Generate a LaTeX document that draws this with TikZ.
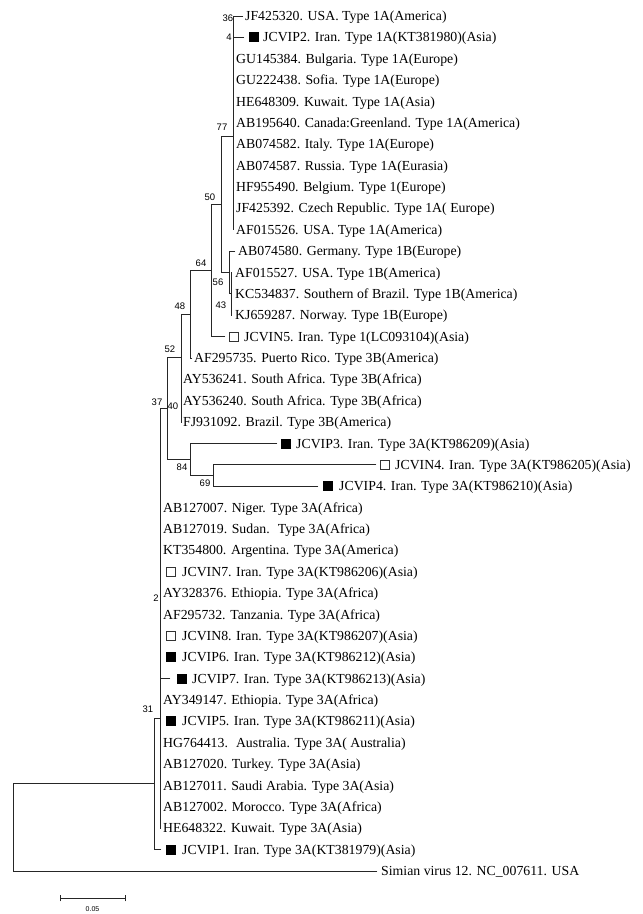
\documentclass[tikz,border=0pt]{standalone}
\usepackage{fontspec}
\setmainfont{Liberation Serif}
\newfontfamily\labfont{Liberation Sans}
\begin{document}
\begin{tikzpicture}[x=1pt,y=-1pt,
  br/.style={line width=0.8pt, draw=black!85, line cap=rect},
  leaf/.style={anchor=base west, inner sep=0pt, yshift=-4.6pt, font=\fontsize{13.8}{16}\selectfont},
  bs/.style={inner sep=0pt, font=\labfont\fontsize{9.5}{11}\selectfont},
  fbx/.style={fill=black, minimum size=10pt, inner sep=0pt},
  ebx/.style={draw=black!80, line width=0.6pt, minimum size=9.4pt, inner sep=0pt, fill=white},
]
\useasboundingbox (0,0) rectangle (643,914);
% internal nodes
\coordinate (n36) at (233,26.69);
\coordinate (n4) at (233,42.72);
\coordinate (n77) at (233,136.23);
\coordinate (n50) at (221,204.37);
\coordinate (n56) at (229,272.5);
\coordinate (n43) at (231,293.875);
\coordinate (n64) at (211,270.5);
\coordinate (n48) at (190,314.25);
\coordinate (n52) at (181,357.5);
\coordinate (n40) at (181,400.75);
\coordinate (n37) at (167,408.52);
\coordinate (n84) at (190,459.53);
\coordinate (n69) at (213,475.56);
\coordinate (n2) at (160,607.7);
\coordinate (nX) at (160,717.97);
\coordinate (n31) at (154,783.8);
\coordinate (root) at (13,827.4);
% leaf tips
\coordinate (t1) at (243,16);
\coordinate (t2) at (244,37.375);
\coordinate (t3) at (233,58.75);
\coordinate (t4) at (233,80.125);
\coordinate (t5) at (233,101.5);
\coordinate (t6) at (233,122.875);
\coordinate (t7) at (233,144.25);
\coordinate (t8) at (233,165.625);
\coordinate (t9) at (233,187);
\coordinate (t10) at (233,208.375);
\coordinate (t11) at (233,229.75);
\coordinate (t12) at (235,251.125);
\coordinate (t13) at (231,272.5);
\coordinate (t14) at (231,293.875);
\coordinate (t15) at (231,315.25);
\coordinate (t16) at (225,336.625);
\coordinate (t17) at (192,358);
\coordinate (t18) at (181,379.375);
\coordinate (t19) at (181,400.75);
\coordinate (t20) at (181,422.125);
\coordinate (t21) at (277,443.5);
\coordinate (t22) at (376,464.875);
\coordinate (t23) at (318,486.25);
\coordinate (t24) at (160,507.625);
\coordinate (t25) at (160,529);
\coordinate (t26) at (160,550.375);
\coordinate (t27) at (160,571.75);
\coordinate (t28) at (160,593.125);
\coordinate (t29) at (160,614.5);
\coordinate (t30) at (160,635.875);
\coordinate (t31) at (160,657.25);
\coordinate (t32) at (170,678.625);
\coordinate (t33) at (160,700);
\coordinate (t34) at (160,721.375);
\coordinate (t35) at (160,742.75);
\coordinate (t36) at (160,764.125);
\coordinate (t37) at (160,785.5);
\coordinate (t38) at (160,806.875);
\coordinate (t39) at (160,828.25);
\coordinate (t40) at (161,849.625);
\coordinate (t41) at (377,871);
% branches
\draw[br] (n36) |- (t1);
\draw[br] (n36) |- (t2);
\draw[br] (n4) |- (n36);
\draw[br] (n4) |- (t3);
\foreach \k in {4,...,11} {\draw[br] (n77) |- (t\k);}
\draw[br] (n77) |- (n4);
\draw[br] (n50) |- (n77);
\draw[br] (n50) |- (n56);
\draw[br] (n56) |- (t12);
\draw[br] (n56) |- (n43);
\foreach \k in {13,14,15} {\draw[br] (n43) |- (t\k);}
\draw[br] (n64) |- (n50);
\draw[br] (n64) |- (t16);
\draw[br] (n48) |- (n64);
\draw[br] (n48) |- (t17);
\draw[br] (n52) |- (n48);
\draw[br] (n52) |- (n40);
\foreach \k in {18,19,20} {\draw[br] (n40) |- (t\k);}
\draw[br] (n37) |- (n52);
\draw[br] (n37) |- (n84);
\draw[br] (n84) |- (t21);
\draw[br] (n84) |- (n69);
\draw[br] (n69) |- (t22);
\draw[br] (n69) |- (t23);
\draw[br] (n2) |- (n37);
\foreach \k in {24,...,38} {\draw[br] (n2) |- (t\k);}
\draw[br] (nX) |- (n2);
\draw[br] (nX) |- (t39);
\draw[br] (n31) |- (nX);
\draw[br] (n31) |- (t40);
\draw[br] (root) |- (n31);
\draw[br] (root) |- (t41);
% markers
\node[fbx] (b2) at (254,37.375) {};
\node[ebx] (b16) at (234,336.625) {};
\node[fbx] (b21) at (286,443.5) {};
\node[ebx] (b22) at (385,464.875) {};
\node[fbx] (b23) at (328,486.25) {};
\node[ebx] (b27) at (171,571.75) {};
\node[ebx] (b30) at (171,635.875) {};
\node[fbx] (b31) at (171,657.25) {};
\node[fbx] (b32) at (182,678.625) {};
\node[fbx] (b34) at (171,721.375) {};
\node[fbx] (b40) at (171,849.625) {};
% leaf labels
\node[leaf] (L1) at (245,16) {JF425320. USA. Type 1A(America)};
\node[leaf] (L2) at (263,37.375) {JCVIP2. Iran. Type 1A(KT381980)(Asia)};
\node[leaf] (L3) at (236,58.75) {GU145384. Bulgaria. Type 1A(Europe)};
\node[leaf] (L4) at (236,80.125) {GU222438. Sofia. Type 1A(Europe)};
\node[leaf] (L5) at (236,101.5) {HE648309. Kuwait. Type 1A(Asia)};
\node[leaf] (L6) at (236,122.875) {AB195640. Canada:Greenland. Type 1A(America)};
\node[leaf] (L7) at (236,144.25) {AB074582. Italy. Type 1A(Europe)};
\node[leaf] (L8) at (236,165.625) {AB074587. Russia. Type 1A(Eurasia)};
\node[leaf] (L9) at (236,187) {HF955490. Belgium. Type 1(Europe)};
\node[leaf] (L10) at (236,208.375) {JF425392. Czech Republic. Type 1A( Europe)};
\node[leaf] (L11) at (236,229.75) {AF015526. USA. Type 1A(America)};
\node[leaf] (L12) at (238,251.125) {AB074580. Germany. Type 1B(Europe)};
\node[leaf] (L13) at (235,272.5) {AF015527. USA. Type 1B(America)};
\node[leaf] (L14) at (235,293.875) {KC534837. Southern of Brazil. Type 1B(America)};
\node[leaf] (L15) at (235,315.25) {KJ659287. Norway. Type 1B(Europe)};
\node[leaf] (L16) at (244,336.625) {JCVIN5. Iran. Type 1(LC093104)(Asia)};
\node[leaf] (L17) at (194,358) {AF295735. Puerto Rico. Type 3B(America)};
\node[leaf] (L18) at (183,379.375) {AY536241. South Africa. Type 3B(Africa)};
\node[leaf] (L19) at (183,400.75) {AY536240. South Africa. Type 3B(Africa)};
\node[leaf] (L20) at (183,422.125) {FJ931092. Brazil. Type 3B(America)};
\node[leaf] (L21) at (296,443.5) {JCVIP3. Iran. Type 3A(KT986209)(Asia)};
\node[leaf] (L22) at (395,464.875) {JCVIN4. Iran. Type 3A(KT986205)(Asia)};
\node[leaf] (L23) at (339,486.25) {JCVIP4. Iran. Type 3A(KT986210)(Asia)};
\node[leaf] (L24) at (163,507.625) {AB127007. Niger. Type 3A(Africa)};
\node[leaf] (L25) at (163,529) {AB127019. Sudan.~ Type 3A(Africa)};
\node[leaf] (L26) at (163,550.375) {KT354800. Argentina. Type 3A(America)};
\node[leaf] (L27) at (182,571.75) {JCVIN7. Iran. Type 3A(KT986206)(Asia)};
\node[leaf] (L28) at (163,593.125) {AY328376. Ethiopia. Type 3A(Africa)};
\node[leaf] (L29) at (163,614.5) {AF295732. Tanzania. Type 3A(Africa)};
\node[leaf] (L30) at (182,635.875) {JCVIN8. Iran. Type 3A(KT986207)(Asia)};
\node[leaf] (L31) at (182,657.25) {JCVIP6. Iran. Type 3A(KT986212)(Asia)};
\node[leaf] (L32) at (192,678.625) {JCVIP7. Iran. Type 3A(KT986213)(Asia)};
\node[leaf] (L33) at (163,700) {AY349147. Ethiopia. Type 3A(Africa)};
\node[leaf] (L34) at (182,721.375) {JCVIP5. Iran. Type 3A(KT986211)(Asia)};
\node[leaf] (L35) at (163,742.75) {HG764413.~ Australia. Type 3A( Australia)};
\node[leaf] (L36) at (163,764.125) {AB127020. Turkey. Type 3A(Asia)};
\node[leaf] (L37) at (163,785.5) {AB127011. Saudi Arabia. Type 3A(Asia)};
\node[leaf] (L38) at (163,806.875) {AB127002. Morocco. Type 3A(Africa)};
\node[leaf] (L39) at (163,828.25) {HE648322. Kuwait. Type 3A(Asia)};
\node[leaf] (L40) at (182,849.625) {JCVIP1. Iran. Type 3A(KT381979)(Asia)};
\node[leaf] (L41) at (381,871) {Simian virus 12. NC\_007611. USA};
% bootstrap values
\node[bs] (s36) at (228,18) {36};
\node[bs] (s4) at (229,37) {4};
\node[bs] (s77) at (222,127) {77};
\node[bs] (s50) at (210,197) {50};
\node[bs] (s64) at (201,263) {64};
\node[bs] (s56) at (218,282) {56};
\node[bs] (s43) at (221,305) {43};
\node[bs] (s48) at (180,306) {48};
\node[bs] (s52) at (170,349) {52};
\node[bs] (s37) at (157,402) {37};
\node[bs] (s40) at (173,406) {40};
\node[bs] (s84) at (182,467) {84};
\node[bs] (s69) at (205,483) {69};
\node[bs] (s2) at (156,598) {2};
\node[bs] (s31) at (148,709) {31};
% scale bar
\coordinate (sbL) at (60,898);
\coordinate (sbR) at (125,898);
\draw[br] (sbL) -- (sbR);
\draw[br] ([yshift=3pt]sbL) -- ([yshift=-3pt]sbL);
\draw[br] ([yshift=3pt]sbR) -- ([yshift=-3pt]sbR);
\node[inner sep=0pt, font=\labfont\fontsize{7}{8}\selectfont] (sbt) at (92.5,909) {0.05};
\end{tikzpicture}
\end{document}
